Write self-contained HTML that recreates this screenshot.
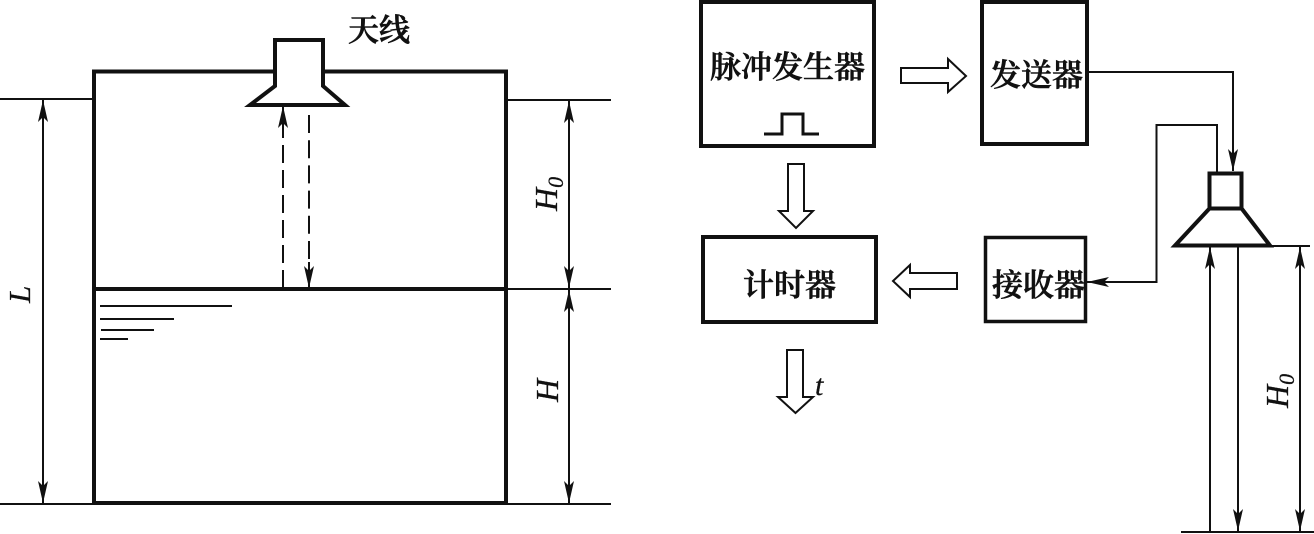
<!DOCTYPE html>
<html><head><meta charset="utf-8"><style>
html,body{margin:0;padding:0;background:#fff;width:1314px;height:534px;overflow:hidden}
svg{display:block}
.c{font-family:"Noto Serif CJK SC","Liberation Serif",serif;font-weight:600;fill:#111;stroke:#111;stroke-width:.6}
.i{font-family:"Liberation Serif",serif;font-style:italic;fill:#111;stroke:#111;stroke-width:.3}
</style></head><body>
<svg width="1314" height="534" viewBox="0 0 1314 534" xmlns="http://www.w3.org/2000/svg">
<defs>
<marker id="a" markerUnits="userSpaceOnUse" markerWidth="24" markerHeight="12" refX="22" refY="5" orient="auto-start-reverse"><path d="M0 0L22 5L0 10L5 5Z" fill="#111"/></marker>
</defs>
<g fill="none" stroke="#111" stroke-width="2">
<line x1="0" y1="99" x2="94" y2="99"/>
<line x1="506" y1="100" x2="611" y2="100"/>
<line x1="506" y1="289" x2="611" y2="289"/>
<line x1="0" y1="504" x2="611" y2="504"/>
<line x1="1181" y1="532" x2="1314" y2="532"/>
<line x1="1270" y1="246" x2="1310" y2="246"/>
<line x1="43" y1="100" x2="43" y2="503" marker-start="url(#a)" marker-end="url(#a)"/>
<line x1="569" y1="101" x2="569" y2="288" marker-start="url(#a)" marker-end="url(#a)"/>
<line x1="569" y1="290" x2="569" y2="503" marker-start="url(#a)" marker-end="url(#a)"/>
<line x1="283" y1="288" x2="283" y2="106" stroke-dasharray="18 7" marker-end="url(#a)"/>
<line x1="283" y1="128" x2="283" y2="136"/>
<line x1="309" y1="115" x2="309" y2="288" stroke-dasharray="18 7.2"/>
<line x1="309" y1="262" x2="309" y2="288" stroke="#fff" stroke-width="3"/>
<line x1="309" y1="262" x2="309" y2="288" marker-end="url(#a)"/>
<path d="M100 306H232M100 319H174M101 330H154M100 339H128"/>
<path d="M1087 72H1233V171" marker-end="url(#a)"/>
<path d="M1217 172V125H1156.500V282H1087" marker-end="url(#a)"/>
<line x1="1210" y1="247" x2="1210" y2="532" marker-start="url(#a)"/>
<line x1="1238" y1="247" x2="1238" y2="531" marker-end="url(#a)"/>
<line x1="1300" y1="247" x2="1300" y2="531" marker-start="url(#a)" marker-end="url(#a)"/>
<path d="M901 68H948V59L966 76L948 92V83H901Z"/>
<path d="M788 164H804V211H813L796 228L779 211H788Z"/>
<path d="M957 273H910V265L893 281L910 297V289H957Z"/>
<path d="M787 350H803V397H813L795.500 413L778 397H787Z"/>
</g>
<g fill="none" stroke="#111" stroke-width="4">
<rect x="94" y="71.500" width="412" height="431.500"/>
<line x1="94" y1="289" x2="506" y2="289"/>
<rect x="701" y="2" width="173" height="144"/>
<rect x="982" y="2" width="105" height="142"/>
<rect x="703" y="237" width="173" height="85"/>
<rect x="985.500" y="237.500" width="100" height="84" stroke-width="3.500"/>
<rect x="1209.500" y="173.500" width="32" height="35"/>
<path d="M1209 209L1175 245.500H1270L1242 209" stroke-linejoin="miter"/>
<path d="M275 72V40H323V72V86L345 105H250L275 86Z" fill="#fff"/>
<path d="M764 134H782V114H803V134H819" stroke-width="3"/>
</g>
<line x1="283" y1="105" x2="283" y2="108" stroke="#111" stroke-width="2"/>
<text class="c" x="348" y="41" font-size="31">天线</text>
<text class="c" x="710" y="78" font-size="31">脉冲发生器</text>
<text class="c" x="990" y="86" font-size="31">发送器</text>
<text class="c" x="743" y="296" font-size="31">计时器</text>
<text class="c" x="992" y="296" font-size="31">接收器</text>
<text class="i" x="815" y="395" font-size="30">t</text>
<text class="i" transform="translate(30 303) rotate(-90)" font-size="31">L</text>
<text class="i" transform="translate(557 211) rotate(-90)" font-size="32">H<tspan font-size="22" dy="6">0</tspan></text>
<text class="i" transform="translate(558 402) rotate(-90)" font-size="32">H</text>
<text class="i" transform="translate(1288 408) rotate(-90)" font-size="32">H<tspan font-size="22" dy="6">0</tspan></text>
</svg>
</body></html>
